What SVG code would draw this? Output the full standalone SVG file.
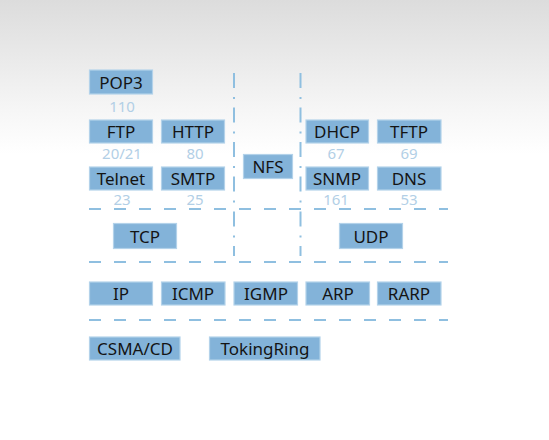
<svg xmlns="http://www.w3.org/2000/svg" width="549" height="440" viewBox="0 0 549 440">
<defs>
<linearGradient id="bg" x1="0" y1="0" x2="0" y2="1">
<stop offset="0" stop-color="#dcdcdc"/>
<stop offset="0.25" stop-color="#f6f6f6"/>
<stop offset="0.35" stop-color="#ffffff"/>
<stop offset="1" stop-color="#ffffff"/>
</linearGradient>
</defs>
<style>
.box{fill:#83b3d9;stroke:#b3d2ea;stroke-width:1.2}
.lbl{font-family:"Noto Sans","Open Sans",sans-serif;font-size:17px;fill:#141414;text-anchor:middle;dominant-baseline:central}
.num{font-family:"Noto Sans","Open Sans",sans-serif;font-size:15px;fill:#b2cfe6;text-anchor:middle}
.h{stroke:#8fbfe0;stroke-width:2;stroke-dasharray:12 13;fill:none}
.v{stroke:#8fbfe0;stroke-width:2;stroke-dasharray:15 9 2 8.5;fill:none}
</style>
<rect width="549" height="440" fill="url(#bg)"/>
<g id="connectors">
<line class="h" x1="89" y1="209" x2="448" y2="209"/>
<line class="h" x1="89" y1="262" x2="448" y2="262"/>
<line class="h" x1="89" y1="320" x2="448" y2="320"/>
<line class="v" x1="234" y1="73" x2="234" y2="209"/>
<line class="v" x1="300.5" y1="73" x2="300.5" y2="209"/>
<line class="v" x1="234" y1="211.5" x2="234" y2="256"/>
<line class="v" x1="300.5" y1="211.5" x2="300.5" y2="256"/>
</g>
<g id="pop3"><rect class="box" x="89.5" y="70" width="63" height="24"/><text class="lbl" x="121" y="82">POP3</text><text class="num" x="122" y="112">110</text></g>
<g id="ftp"><rect class="box" x="89.5" y="120" width="63" height="23"/><text class="lbl" x="121" y="131.5">FTP</text><text class="num" x="122" y="159">20/21</text></g>
<g id="http"><rect class="box" x="161.5" y="120" width="63" height="23"/><text class="lbl" x="193" y="131.5">HTTP</text><text class="num" x="195" y="159">80</text></g>
<g id="telnet"><rect class="box" x="89.5" y="167" width="63" height="23"/><text class="lbl" x="121" y="178.5">Telnet</text><text class="num" x="122" y="205">23</text></g>
<g id="smtp"><rect class="box" x="161.5" y="167" width="63" height="23"/><text class="lbl" x="193" y="178.5">SMTP</text><text class="num" x="195" y="205">25</text></g>
<g id="nfs"><rect class="box" x="243.5" y="154.5" width="49" height="24"/><text class="lbl" x="268" y="166.5">NFS</text></g>
<g id="dhcp"><rect class="box" x="306" y="120" width="62.5" height="23"/><text class="lbl" x="337" y="131.5">DHCP</text><text class="num" x="336" y="159">67</text></g>
<g id="tftp"><rect class="box" x="377.5" y="120" width="63.5" height="23"/><text class="lbl" x="409" y="131.5">TFTP</text><text class="num" x="409" y="159">69</text></g>
<g id="snmp"><rect class="box" x="306" y="167" width="62.5" height="23"/><text class="lbl" x="337" y="178.5">SNMP</text><text class="num" x="336" y="205">161</text></g>
<g id="dns"><rect class="box" x="377.5" y="167" width="63.5" height="23"/><text class="lbl" x="409" y="178.5">DNS</text><text class="num" x="409" y="205">53</text></g>
<g id="tcp"><rect class="box" x="113.5" y="223.5" width="63" height="25"/><text class="lbl" x="145" y="236">TCP</text></g>
<g id="udp"><rect class="box" x="339.5" y="223.5" width="63" height="25"/><text class="lbl" x="371" y="236">UDP</text></g>
<g id="ip"><rect class="box" x="89.5" y="282" width="63" height="23"/><text class="lbl" x="121" y="293.5">IP</text></g>
<g id="icmp"><rect class="box" x="161.5" y="282" width="63.5" height="23"/><text class="lbl" x="193" y="293.5">ICMP</text></g>
<g id="igmp"><rect class="box" x="234" y="282" width="63.5" height="23"/><text class="lbl" x="266" y="293.5">IGMP</text></g>
<g id="arp"><rect class="box" x="306" y="282" width="63.5" height="23"/><text class="lbl" x="338" y="293.5">ARP</text></g>
<g id="rarp"><rect class="box" x="377.5" y="282" width="63.5" height="23"/><text class="lbl" x="409" y="293.5">RARP</text></g>
<g id="csmacd"><rect class="box" x="89.5" y="337" width="90.5" height="23"/><text class="lbl" x="135" y="348.5">CSMA/CD</text></g>
<g id="tokingring"><rect class="box" x="209.5" y="337" width="110.5" height="23"/><text class="lbl" x="265" y="348.5">TokingRing</text></g>
</svg>
